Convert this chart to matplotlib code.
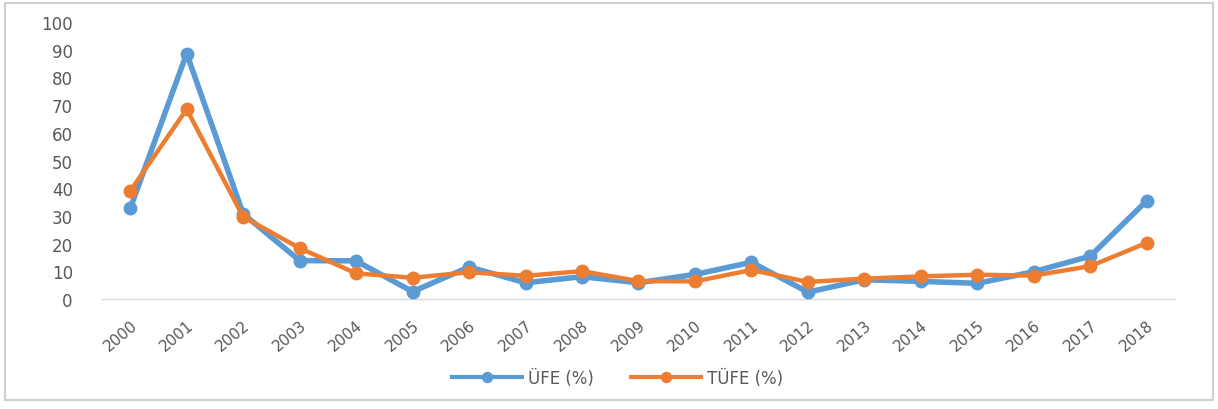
import matplotlib
matplotlib.use("Agg")
import matplotlib.pyplot as plt
from matplotlib.patches import Rectangle

years = [str(y) for y in range(2000, 2019)]
ufe = [32.7, 88.6, 30.8, 13.9, 13.8, 2.7, 11.6, 5.9, 8.1, 5.9, 8.9, 13.3, 2.5, 7.0, 6.4, 5.7, 9.9, 15.5, 35.5]
tufe = [39.0, 68.5, 29.7, 18.4, 9.3, 7.7, 9.7, 8.4, 10.1, 6.5, 6.4, 10.5, 6.2, 7.4, 8.2, 8.8, 8.5, 11.9, 20.3]
yticks = list(range(0, 101, 10))

BLUE = "#5B9BD5"
ORANGE = "#ED7D31"
TEXT = "#595959"

plt.rcParams["font.family"] = ["DejaVu Sans"]

fig = plt.figure(figsize=(12.18, 4.10), dpi=100)
ax = fig.add_axes([0.0837, 0.268, 0.881, 0.676])

x = list(range(len(years)))
ax.plot(x, ufe, color=BLUE, lw=4, marker="o", ms=9, label="ÜFE (%)", zorder=3)
ax.plot(x, tufe, color=ORANGE, lw=3.2, marker="o", ms=9, label="TÜFE (%)", zorder=4)

ax.set_xlim(-0.5, len(years) - 0.5)
ax.set_ylim(0, 100)
ax.set_yticks(yticks)
ax.set_yticklabels([str(v) for v in yticks], color=TEXT, fontsize=12)
ax.set_xticks(x)
ax.set_xticklabels(years, rotation=40, ha="right", rotation_mode="anchor",
                   color=TEXT, fontsize=11)
ax.tick_params(axis="both", length=0)
ax.tick_params(axis="y", pad=21)
ax.tick_params(axis="x", pad=13)

for side in ("top", "right", "left"):
    ax.spines[side].set_visible(False)
ax.spines["bottom"].set_color("#D9D9D9")
ax.spines["bottom"].set_linewidth(1)

leg = fig.legend(loc="center", bbox_to_anchor=(0.507, 0.075), ncol=2, frameon=False,
                 fontsize=12, labelcolor=TEXT, handlelength=4.2, columnspacing=2.2,
                 handletextpad=0.35, markerscale=0.8)
for line in leg.get_lines():
    line.set_linewidth(3)

fig.patches.append(Rectangle((0.004, 0.022), 0.992, 0.968, transform=fig.transFigure,
                             fill=False, edgecolor="#D0D0D0", lw=1.5))

fig.savefig("out.png", dpi=100, facecolor="white")
